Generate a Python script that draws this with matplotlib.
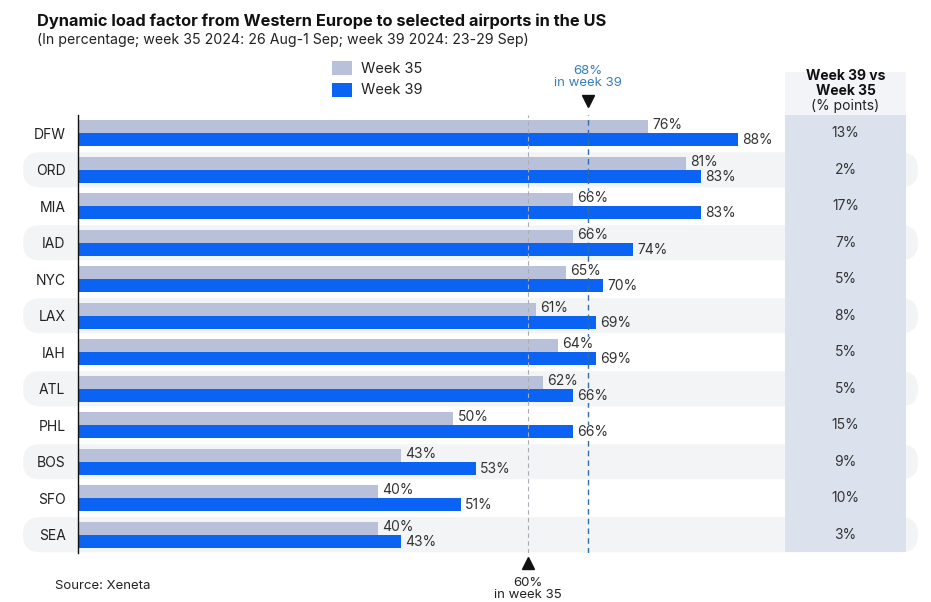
import matplotlib
matplotlib.use("Agg")
import matplotlib.pyplot as plt
from matplotlib.patches import FancyBboxPatch, Rectangle, Patch
import numpy as np

plt.rcParams['font.family'] = ['Inter', 'DejaVu Sans']

airports = ["DFW", "ORD", "MIA", "IAD", "NYC", "LAX", "IAH", "ATL", "PHL", "BOS", "SFO", "SEA"]
week35 = [76, 81, 66, 66, 65, 61, 64, 62, 50, 43, 40, 40]
week39 = [88, 83, 83, 74, 70, 69, 69, 66, 66, 53, 51, 43]
diff_labels = ["13%", "2%", "17%", "7%", "5%", "8%", "5%", "5%", "15%", "9%", "10%", "3%"]
avg35 = 60
avg39 = 68

C35 = "#b9c1da"
C39 = "#0b63f3"
BAND = "#f3f4f6"
COL = "#dce2ed"
HEAD = "#f3f4f7"

W, H = 931, 602
fig = plt.figure(figsize=(W / 100, H / 100), dpi=100)
fig.patch.set_facecolor("white")

# axes: left px 78, right px 918, top px 115, bottom px 553
ax = fig.add_axes([78 / W, (H - 553) / H, 840 / W, 438 / H])
ax.set_xlim(0, 112)
ax.set_ylim(11.5, -0.5)
ax.set_facecolor("none")

pxx = 112 / 840.0   # data x per pixel
pxy = 12 / 438.0    # data y per pixel

y = np.arange(len(airports))
bh = 0.35
ax.barh(y - bh / 2, week35, height=bh, color=C35, zorder=2, label="Week 35")
ax.barh(y + bh / 2, week39, height=bh, color=C39, zorder=2, label="Week 39")

# alternating row bands
for i in y:
    if i % 2 == 1:
        x0 = -55 * pxx
        x1 = 112.0
        rs = 17 * pxx
        band = FancyBboxPatch((x0, i - 0.48), x1 - x0, 0.96,
                              boxstyle=f"round,pad=0,rounding_size={rs}",
                              mutation_aspect=(17 * pxy) / rs,
                              facecolor=BAND, edgecolor="none", zorder=0.5,
                              clip_on=False, transform=ax.transData)
        ax.add_patch(band)

# right column
cx0 = (785 - 78) * pxx
cx1 = (906 - 78) * pxx
ax.add_patch(Rectangle((cx0, -0.5), cx1 - cx0, 11.97, facecolor=COL, edgecolor="none",
                       zorder=1, clip_on=False))
ax.add_patch(Rectangle((cx0, -0.5 - 43 * pxy), cx1 - cx0, 43 * pxy, facecolor=HEAD,
                       edgecolor="none", zorder=1, clip_on=False))
ccx = (cx0 + cx1) / 2
for i, d in enumerate(diff_labels):
    ax.text(ccx, i, d, ha="center", va="center", fontsize=10, color="#333333", zorder=3)
ax.text(ccx, -0.5 - 31.5 * pxy, "Week 39 vs\nWeek 35", ha="center", va="center",
        fontsize=10, fontweight="bold", color="#111111", linespacing=1.05, zorder=3, clip_on=False)
ax.text(ccx, -0.5 - 9 * pxy, "(% points)", ha="center", va="center",
        fontsize=10, color="#222222", zorder=3, clip_on=False)

# value labels (drawn above reference lines, masking them)
for i in y:
    bg = BAND if i % 2 == 1 else "white"
    for val, off in ((week35[i], -bh / 2 - 0.04), (week39[i], bh / 2 + 0.02)):
        ax.text(val + 0.6, i + off, f"{val}%", ha="left", va="center",
                fontsize=10, color="#333333", zorder=6,
                bbox=dict(boxstyle="square,pad=0", facecolor=bg, edgecolor="none"))

# reference lines
ax.axvline(avg35, color="#a9adb3", lw=0.8, ls=(0, (4, 3)), zorder=4)
ax.axvline(avg39, color="#2f6ea8", lw=1.0, ls=(0, (4, 3)), zorder=4)
ax.plot([avg39], [-0.5 - 14 * pxy], marker="v", color="#111111", markersize=9,
        clip_on=False, zorder=5)
ax.plot([avg35], [11.5 + 10 * pxy], marker="^", color="#111111", markersize=9,
        clip_on=False, zorder=5)
ax.text(avg39, -0.5 - 38 * pxy, f"{avg39}%\nin week 39", ha="center", va="center",
        fontsize=9.5, color="#3a7dbd", linespacing=1.1, clip_on=False)
ax.text(avg35, 11.5 + 36 * pxy, f"{avg35}%\nin week 35", ha="center", va="center",
        fontsize=9.5, color="#222222", linespacing=1.1, clip_on=False)

# axes styling
for s in ["top", "right", "bottom"]:
    ax.spines[s].set_visible(False)
ax.spines["left"].set_color("#111111")
ax.spines["left"].set_linewidth(1.0)
ax.spines["left"].set_zorder(5)
ax.set_xticks([])
ax.set_yticks(y)
ax.set_yticklabels(airports, fontsize=10, color="#222222")
ax.tick_params(axis="y", length=0, pad=9)

# legend
leg = ax.legend(handles=[Patch(facecolor=C35), Patch(facecolor=C39)], labels=["Week 35", "Week 39"],
                loc="upper left", bbox_to_anchor=(332 / W, 1 - 61 / H), bbox_transform=fig.transFigure,
                frameon=False, fontsize=10.5, handlelength=1.4, handleheight=1.1,
                handletextpad=0.6, labelspacing=0.45, borderpad=0, borderaxespad=0)
for t in leg.get_texts():
    t.set_color("#222222")

# titles
fig.text(37 / W, 1 - 21 / H, "Dynamic load factor from Western Europe to selected airports in the US",
         fontsize=11.8, fontweight="bold", color="#111111", va="center", ha="left")
fig.text(37 / W, 1 - 40 / H, "(In percentage; week 35 2024: 26 Aug-1 Sep; week 39 2024: 23-29 Sep)",
         fontsize=10.2, color="#222222", va="center", ha="left")
fig.text(55 / W, 1 - 586 / H, "Source: Xeneta", fontsize=9.5, color="#222222", va="center", ha="left")

fig.savefig("out.png", dpi=100, facecolor="white")
